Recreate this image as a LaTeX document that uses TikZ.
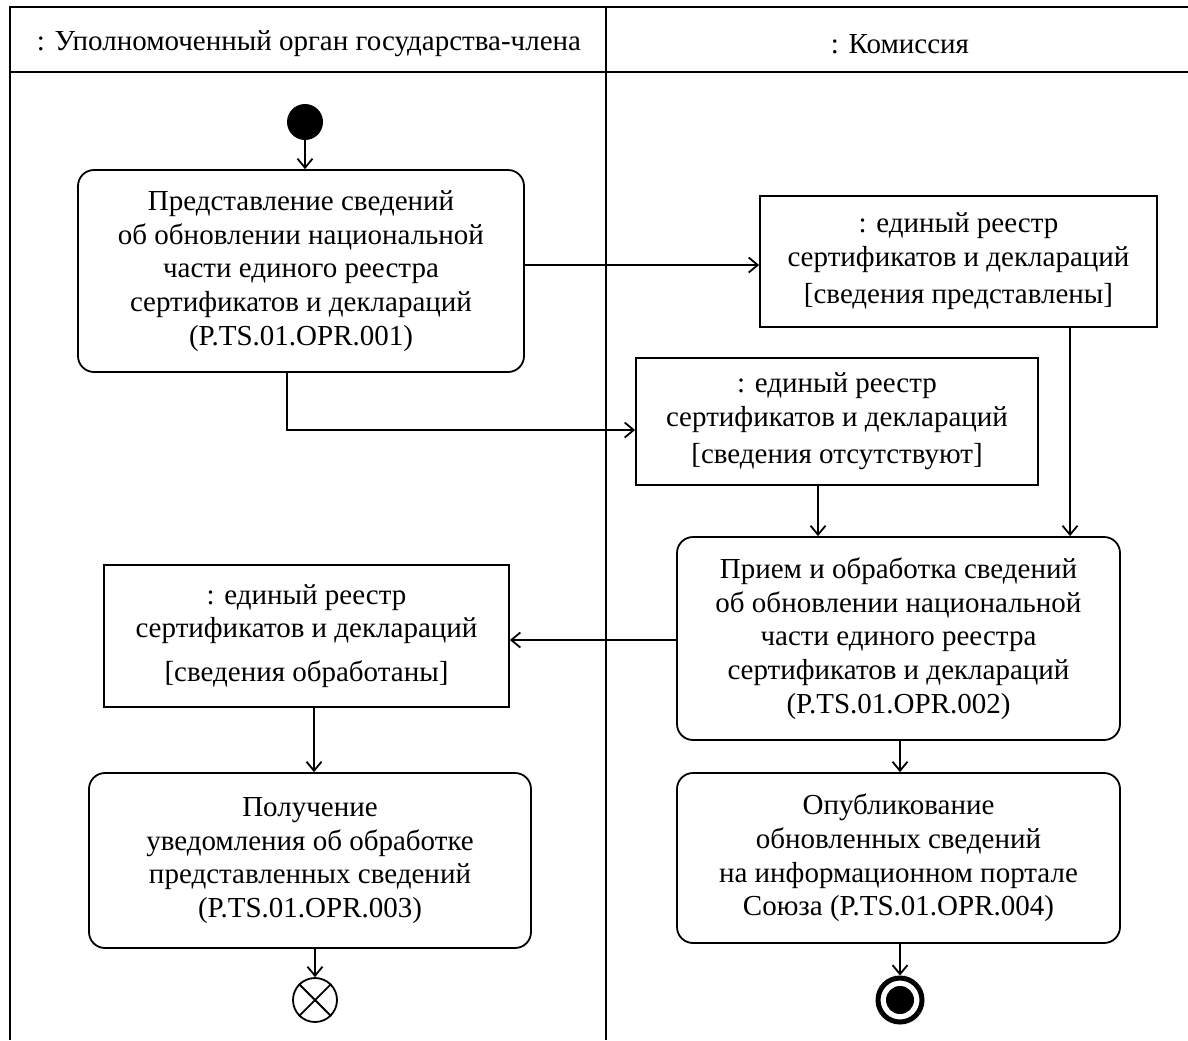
\documentclass[tikz,border=0pt]{standalone}
\usepackage{fontspec}
\setmainfont{Liberation Serif}
\usetikzlibrary{positioning, arrows.meta}
\tikzset{action/.style={draw, line width=0.9pt, rounded corners=8pt, align=center, inner sep=2pt},
         object/.style={draw, line width=0.9pt, align=center, inner sep=2pt},
         flow/.style={line width=0.9pt, -{Straight Barb[length=4.5pt,width=7.5pt,line width=0.9pt]}},
         lane/.style={line width=1pt},
        }

\begin{document}
\begin{tikzpicture}[x=0.5pt, y=-0.5pt, font=\fontsize{14.5}{16.8}\selectfont]
        \useasboundingbox (0,0) rectangle (1188,1040);
        % swimlanes
        \draw[lane] (1188,7) -- (10,7) -- (10,1040);
        \draw[lane] (10,72) -- (1188,72);
        \draw[lane] (606,7) -- (606,1040);
        \node (lanea) at (309,44) {: Уполномоченный орган государства-члена};
        \node (laneb) at (900,44) {: Комиссия};

        \node[circle, fill, minimum size=18pt, inner sep=0pt](start)at(305,122){};
        \node[action, minimum width=223pt, minimum height=101pt](ra)at(301,271)
            {Представление сведений\\об обновлении национальной\\части единого реестра\\сертификатов и деклараций\\(P.TS.01.OPR.001)};
        \node[object, minimum width=198.5pt, minimum height=65.5pt](oa)at(958.5,261.5)
            {: единый реестр\\сертификатов и деклараций\\[2pt][сведения представлены]};
        \node[object, minimum width=201pt, minimum height=63.5pt](ob)at(837,421.5)
            {: единый реестр\\сертификатов и деклараций\\[2pt][сведения отсутствуют]};
        \node[action, minimum width=221.5pt, minimum height=101.5pt](rb)at(898.5,638.5)
            {Прием и обработка сведений\\об обновлении национальной\\части единого реестра\\сертификатов и деклараций\\(P.TS.01.OPR.002)};
        \node[object, minimum width=202.5pt, minimum height=71pt](oc)at(306.5,636)
            {: единый реестр\\сертификатов и деклараций\\[5pt][сведения обработаны]};
        \node[action, minimum width=221pt, minimum height=87.5pt](rc)at(310,860.5)
            {Получение\\уведомления об обработке\\представленных сведений\\(P.TS.01.OPR.003)};
        \node[action, minimum width=221.5pt, minimum height=85pt](rd)at(898.5,858)
            {Опубликование\\обновленных сведений\\на информационном портале\\Союза (P.TS.01.OPR.004)};
        \node[circle, draw, line width=0.9pt, minimum size=22pt, inner sep=0pt](enda)at(315,1000){};
        \draw[line width=0.9pt] (enda.45) -- (enda.225) (enda.135) -- (enda.315);
        \node[circle, draw, line width=2.5pt, minimum size=22pt, inner sep=0pt](endb)at(900,1000){};
        \node[circle, fill, minimum size=14pt, inner sep=0pt](endbin)at(endb){};

        \draw[flow](start)--(start |- ra.north);
        \draw[flow](ra.east |- 0,265)--(oa.west |- 0,265);
        \draw[flow](ra.south -| 287,0)|-(ob.west |- 0,430);
        \draw[flow](ob.south -| 818,0)--(rb.north -| 818,0);
        \draw[flow](oa.south -| 1070,0)--(rb.north -| 1070,0);
        \draw[flow](rb.west |- 0,640)--(oc.east |- 0,640);
        \draw[flow](oc.south -| 314,0)--(rc.north -| 314,0);
        \draw[flow](rc.south -| enda)--(enda);
        \draw[flow](rb.south -| 900,0)--(rd.north -| 900,0);
        \draw[flow](rd.south -| endb)--(endb);
    \end{tikzpicture}
\end{document}
